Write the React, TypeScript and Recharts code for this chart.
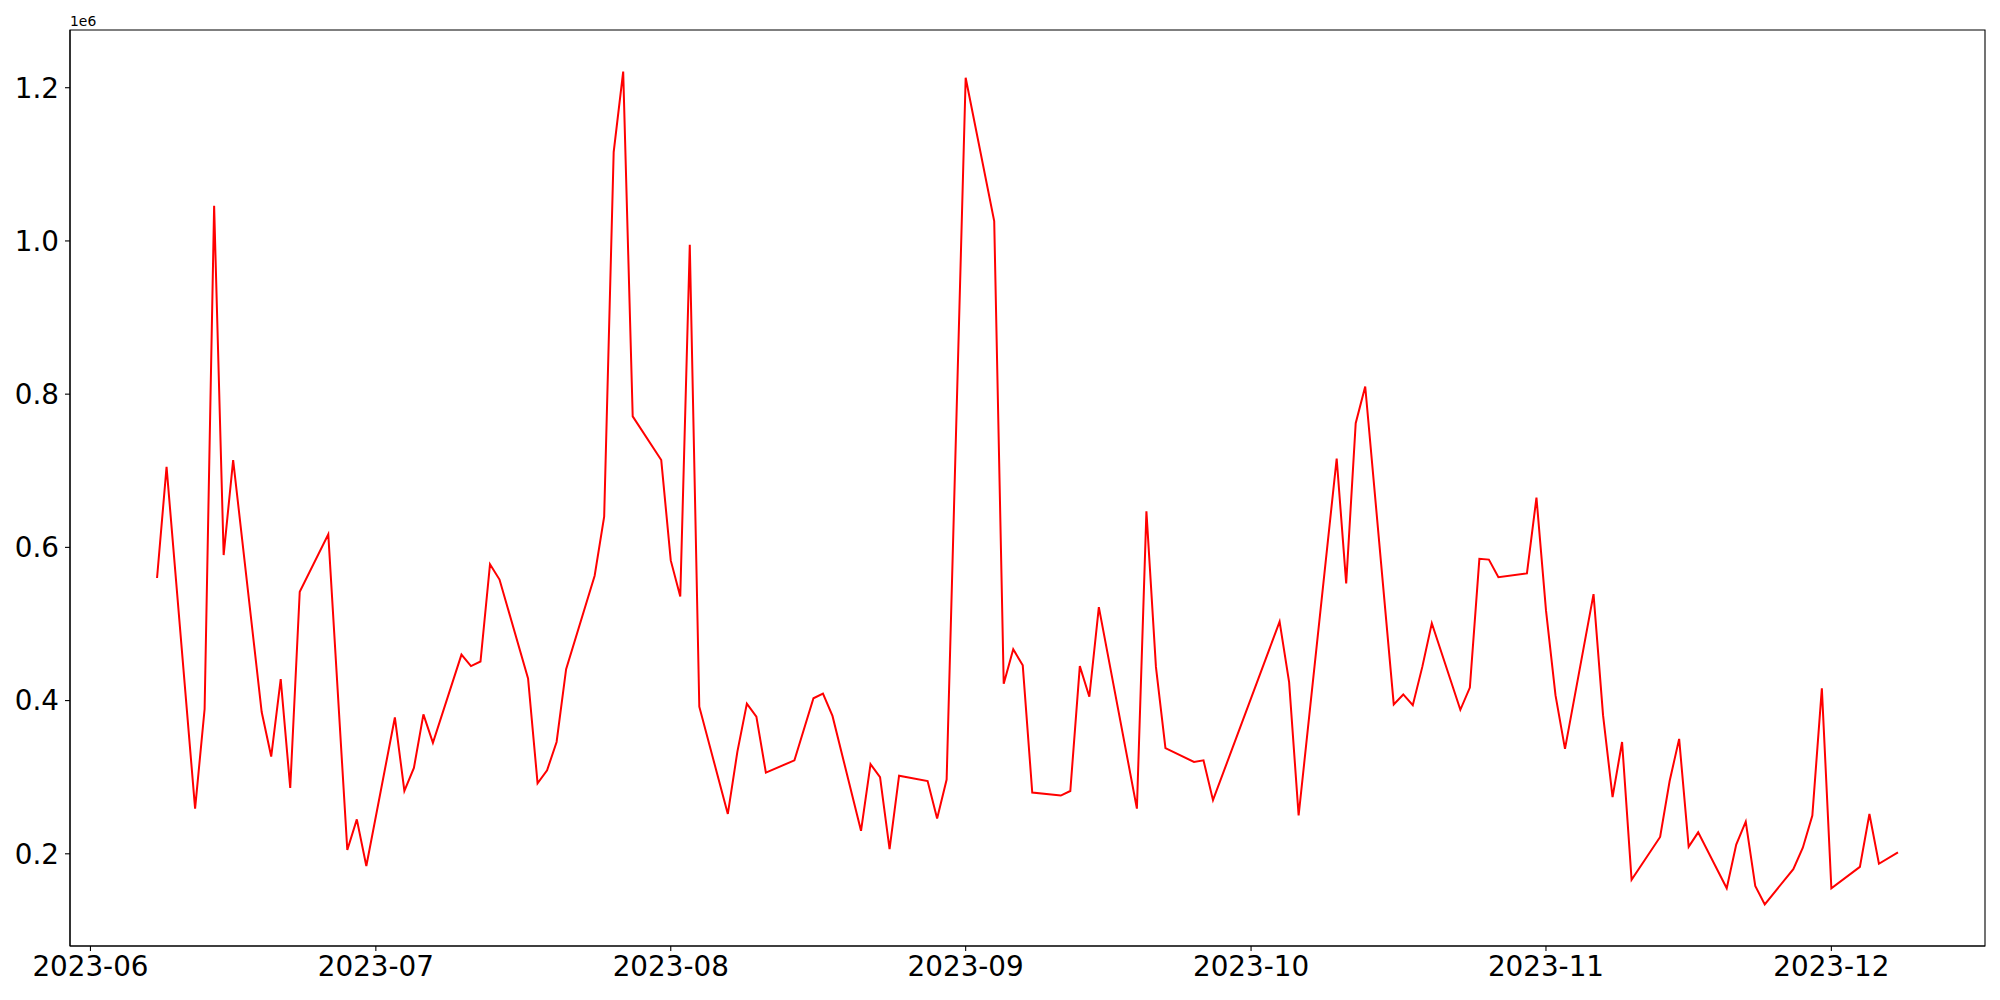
import { LineChart, Line, XAxis, YAxis, ReferenceArea } from 'recharts';

const dates = [
  '2023-06-08', '2023-06-09', '2023-06-12', '2023-06-13', '2023-06-14', '2023-06-15', '2023-06-16',
  '2023-06-19', '2023-06-20', '2023-06-21', '2023-06-22', '2023-06-23', '2023-06-26', '2023-06-28',
  '2023-06-29', '2023-06-30', '2023-07-03', '2023-07-04', '2023-07-05', '2023-07-06', '2023-07-07',
  '2023-07-10', '2023-07-11', '2023-07-12', '2023-07-13', '2023-07-14', '2023-07-17', '2023-07-18',
  '2023-07-19', '2023-07-20', '2023-07-21', '2023-07-24', '2023-07-25', '2023-07-26', '2023-07-27',
  '2023-07-28', '2023-07-31', '2023-08-01', '2023-08-02', '2023-08-03', '2023-08-04', '2023-08-07',
  '2023-08-08', '2023-08-09', '2023-08-10', '2023-08-11', '2023-08-14', '2023-08-16', '2023-08-17',
  '2023-08-18', '2023-08-21', '2023-08-22', '2023-08-23', '2023-08-24', '2023-08-25', '2023-08-28',
  '2023-08-29', '2023-08-30', '2023-09-01', '2023-09-04', '2023-09-05', '2023-09-06', '2023-09-07',
  '2023-09-08', '2023-09-11', '2023-09-12', '2023-09-13', '2023-09-14', '2023-09-15', '2023-09-19',
  '2023-09-20', '2023-09-21', '2023-09-22', '2023-09-25', '2023-09-26', '2023-09-27', '2023-10-04',
  '2023-10-05', '2023-10-06', '2023-10-10', '2023-10-11', '2023-10-12', '2023-10-13', '2023-10-16',
  '2023-10-17', '2023-10-18', '2023-10-19', '2023-10-20', '2023-10-23', '2023-10-24', '2023-10-25',
  '2023-10-26', '2023-10-27', '2023-10-30', '2023-10-31', '2023-11-01', '2023-11-02', '2023-11-03',
  '2023-11-06', '2023-11-07', '2023-11-08', '2023-11-09', '2023-11-10', '2023-11-13', '2023-11-14',
  '2023-11-15', '2023-11-16', '2023-11-17', '2023-11-20', '2023-11-21', '2023-11-22', '2023-11-23',
  '2023-11-24', '2023-11-27', '2023-11-28', '2023-11-29', '2023-11-30', '2023-12-01', '2023-12-04',
  '2023-12-05', '2023-12-06', '2023-12-08',
];

const values = [
  560000, 705000, 259000, 389000, 1046000, 590000, 714000,
  385000, 327000, 428000, 286000, 542000, 617000, 205000,
  245000, 184000, 378000, 282000, 312000, 382000, 345000,
  460000, 445000, 451000, 578000, 558000, 429000, 292000,
  309000, 346000, 441000, 563000, 640000, 1116000, 1221000,
  771000, 714000, 583000, 536000, 995000, 392000, 252000,
  333000, 396000, 379000, 306000, 322000, 403000, 409000,
  380000, 230000, 317000, 300000, 206000, 302000, 295000,
  246000, 297000, 1213000, 1026000, 422000, 467000, 446000,
  280000, 276000, 282000, 445000, 405000, 522000, 259000,
  647000, 444000, 338000, 320000, 322000, 270000, 503000,
  424000, 250000, 716000, 553000, 762000, 810000, 395000,
  408000, 394000, 444000, 501000, 388000, 417000, 585000,
  584000, 561000, 566000, 665000, 518000, 407000, 337000,
  539000, 381000, 274000, 346000, 166000, 222000, 295000,
  350000, 209000, 228000, 155000, 212000, 242000, 158000,
  134000, 180000, 208000, 250000, 416000, 155000, 183000,
  252000, 187000, 202000,
];

const monthTicks = ['2023-06-01', '2023-07-01', '2023-08-01', '2023-09-01', '2023-10-01', '2023-11-01', '2023-12-01'];
const monthLabels = ['2023-06', '2023-07', '2023-08', '2023-09', '2023-10', '2023-11', '2023-12'];
const yTicks = [200000, 400000, 600000, 800000, 1000000, 1200000];

const origin = Date.UTC(2023, 5, 1);
const toDay = (s: string) => {
  const [y, m, d] = s.split('-').map(Number);
  return (Date.UTC(y, m - 1, d) - origin) / 86400000;
};

const data = dates.map((d, i) => ({ day: toDay(d), value: values[i] }));
const tickDays = monthTicks.map(toDay);

// matplotlib style 5% margins
const xMin = data[0].day, xMax = data[data.length - 1].day;
const xPad = (xMax - xMin) * 0.05;
const yLo = Math.min(...values), yHi = Math.max(...values);
const yPad = (yHi - yLo) * 0.05;
const xDomain: [number, number] = [xMin - xPad, xMax + xPad];
const yDomain: [number, number] = [yLo - yPad, yHi + yPad];

const tickStyle = { fill: '#000', fontSize: 27.8, fontFamily: 'DejaVu Sans' };
const lineStyle = { stroke: '#000', strokeWidth: 1.1 };

export default function App() {
  return (
    <div style={{ position: 'absolute', left: 0, top: 0, width: 2000, height: 1000, background: '#fff' }}>
      <LineChart width={2000} height={1000} data={data} margin={{ top: 30, right: 15, left: 0, bottom: 0 }}>
        <XAxis
          dataKey="day"
          type="number"
          domain={xDomain}
          ticks={tickDays}
          interval={0}
          allowDataOverflow
          tickFormatter={(v: number) => monthLabels[tickDays.indexOf(v)] ?? ''}
          height={54}
          tick={tickStyle}
          tickLine={lineStyle}
          axisLine={lineStyle}
          tickSize={5}
          tickMargin={5}
        />
        <YAxis
          type="number"
          domain={yDomain}
          ticks={yTicks}
          interval={0}
          allowDataOverflow
          tickFormatter={(v: number) => (v / 1e6).toFixed(1)}
          width={70}
          tick={tickStyle}
          tickLine={lineStyle}
          axisLine={lineStyle}
          tickSize={5}
          tickMargin={6}
        />
        <ReferenceArea
          x1={xDomain[0]}
          x2={xDomain[1]}
          y1={yDomain[0]}
          y2={yDomain[1]}
          fill="none"
          fillOpacity={0}
          stroke="#000"
          strokeWidth={1.1}
        />
        <Line
          type="linear"
          dataKey="value"
          stroke="#ff0000"
          strokeWidth={2}
          dot={false}
          activeDot={false}
          isAnimationActive={false}
        />
      </LineChart>
      <svg width={200} height={40} style={{ position: 'absolute', left: 0, top: 0 }}>
        <text x={70} y={26} fontSize={13.9} fontFamily="DejaVu Sans" fill="#000">1e6</text>
      </svg>
    </div>
  );
}
